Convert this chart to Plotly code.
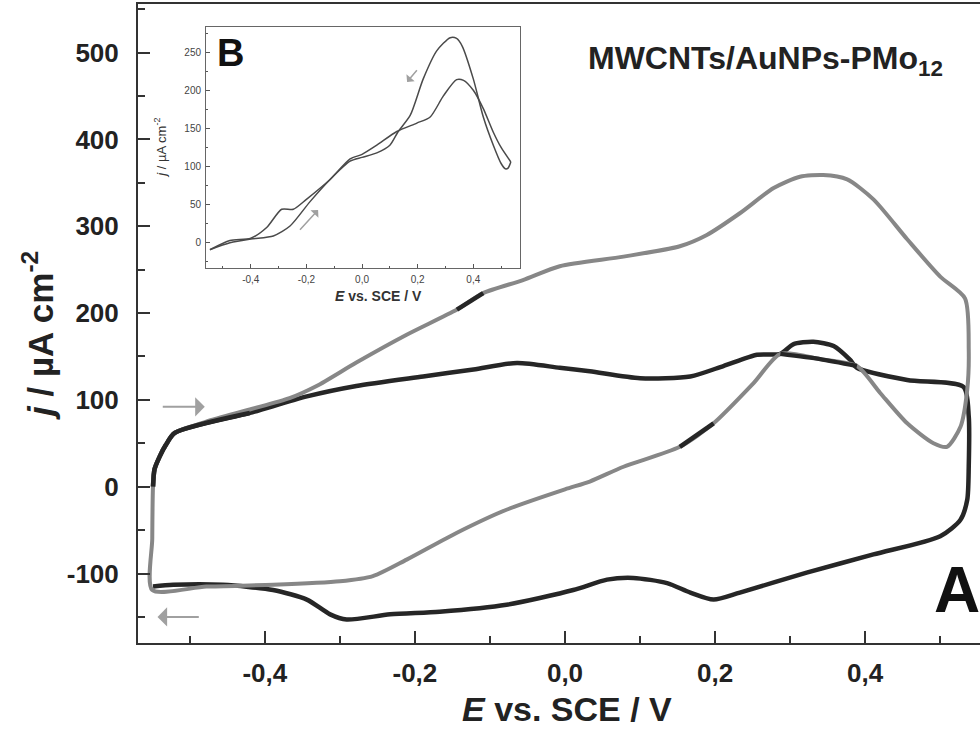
import plotly.graph_objects as go

# ---------------- data ----------------
# main panel A: outer cycle (grey)
gray_v = [-0.550, -0.550, -0.549, -0.547, -0.540, -0.532, -0.520, -0.478, -0.42, -0.367, -0.331,
          -0.278, -0.211, -0.144, -0.109, -0.056, -0.007, 0.078, 0.153, 0.189, 0.233, 0.278,
          0.313, 0.344, 0.376, 0.411, 0.456, 0.50, 0.533, 0.538, 0.536, 0.527, 0.509, 0.491,
          0.456, 0.42, 0.389, 0.34, 0.287, 0.251, 0.198, 0.153, 0.078, 0.033, 0.0, -0.078,
          -0.144, -0.211, -0.256, -0.30, -0.389, -0.478, -0.550]
gray_j = [-119, -60, 0, 20, 35, 48, 62, 75, 89, 102, 116,
          143, 175, 204, 223, 238, 254, 265, 277, 290, 315, 344,
          357, 359, 354, 331, 285, 242, 217, 158, 112, 69, 46, 50,
          73, 108, 139, 147, 153, 119, 73, 46, 23, 6, -3, -26.5,
          -53, -84, -103, -109, -113, -115, -119]

# main panel A: inner cycle (black)
black_v = [-0.549, -0.547, -0.540, -0.532, -0.520, -0.42, -0.344, -0.278, -0.189, -0.122, -0.064,
           -0.007, 0.033, 0.10, 0.167, 0.211, 0.256, 0.287, 0.304, 0.331, 0.358, 0.38, 0.389,
           0.456, 0.531, 0.538, 0.538, 0.536, 0.527, 0.50, 0.411, 0.322, 0.233, 0.198, 0.167,
           0.136, 0.091, 0.056, 0.011, -0.078, -0.167, -0.233, -0.291, -0.313, -0.344, -0.389,
           -0.456, -0.522, -0.549]
black_j = [0, 20, 35, 48, 62, 85, 104, 116, 127, 135, 142.5,
           137, 133, 125, 127, 139, 152, 153, 164, 167, 162, 146, 137,
           123, 115, 81, 23, -15, -38, -57, -78, -99, -122, -130, -122,
           -111, -105, -107, -119, -136, -144, -147, -153, -147, -130, -119,
           -113, -113, -115]

# darker overprinted pieces of the grey cycle
dark_v = [0.389, 0.34, 0.287, None, -0.144, -0.109, None, 0.153, 0.198]
dark_j = [139, 147, 153, None, 204, 223, None, 46, 73]

# inset B: difference curves
insA_v = [-0.547, -0.475, -0.40, -0.319, -0.259, -0.187, -0.115, -0.043, 0.0, 0.053, 0.10, 0.13,
          0.173, 0.22, 0.269, 0.317, 0.34, 0.36, 0.40, 0.436, 0.472, 0.50, 0.515, 0.525, 0.535]
insA_j = [-9, 0, 5, 9, 22, 54, 83, 107, 112, 118, 128, 146,
          167, 215, 252, 269, 268, 258, 215, 165, 128, 104, 97, 98, 106]
insB_v = [-0.547, -0.475, -0.40, -0.343, -0.289, -0.247, -0.20, -0.115, -0.043, 0.0, 0.053,
          0.125, 0.197, 0.245, 0.293, 0.34, 0.365, 0.40, 0.436, 0.472, 0.50, 0.535]
insB_j = [-9, 3, 6, 20, 44, 44, 57, 83, 110, 116, 128,
          146, 157, 165, 193, 214, 213, 200, 176, 145, 125, 106]

x_ticks = [-0.4, -0.2, 0.0, 0.2, 0.4]
x_ticktext = ["-0,4", "-0,2", "0,0", "0,2", "0,4"]
y_ticks = [-100, 0, 100, 200, 300, 400, 500]
y_ticktext = ["-100", "0", "100", "200", "300", "400", "500"]
ins_y_ticks = [0, 50, 100, 150, 200, 250]

GRAY = "#878787"
BLACK = "#262626"
FONT = "Liberation Sans, Arial, sans-serif"
SM = 0.7

fig = go.Figure()
fig.add_trace(go.Scatter(x=black_v, y=black_j, mode="lines",
                         line=dict(color=BLACK, width=4.5, shape="spline", smoothing=SM), hoverinfo="skip"))
fig.add_trace(go.Scatter(x=gray_v, y=gray_j, mode="lines",
                         line=dict(color=GRAY, width=4, shape="spline", smoothing=SM), hoverinfo="skip"))
fig.add_trace(go.Scatter(x=black_v[:6], y=black_j[:6], mode="lines",
                         line=dict(color=BLACK, width=4.5, shape="spline", smoothing=SM), hoverinfo="skip"))
fig.add_trace(go.Scatter(x=dark_v, y=dark_j, mode="lines", connectgaps=False,
                         line=dict(color=BLACK, width=4.5, shape="spline", smoothing=SM), hoverinfo="skip"))
fig.add_trace(go.Scatter(x=insA_v, y=insA_j, mode="lines", xaxis="x2", yaxis="y2",
                         line=dict(color="#4a4a4a", width=1.5, shape="spline", smoothing=SM), hoverinfo="skip"))
fig.add_trace(go.Scatter(x=insB_v, y=insB_j, mode="lines", xaxis="x2", yaxis="y2",
                         line=dict(color="#4a4a4a", width=1.5, shape="spline", smoothing=SM), hoverinfo="skip"))

axis_common = dict(showgrid=False, zeroline=False, showline=True, ticks="inside")

fig.update_layout(
    width=980, height=729,
    margin=dict(l=138, r=0, t=4, b=86),
    paper_bgcolor="white", plot_bgcolor="white",
    showlegend=False,
    font=dict(family=FONT, color="#222"),
    xaxis=dict(**axis_common, range=[-0.569, 0.553], tickvals=x_ticks, ticktext=x_ticktext,
               ticklen=12, tickwidth=2, tickcolor="#333", linecolor="#333", linewidth=2,
               mirror=True, minor=dict(dtick=0.1, tick0=0, ticklen=7, tickwidth=2, tickcolor="#333", ticks="inside"),
               tickfont=dict(size=26, weight="bold", family=FONT, color="#222"),
               ticklabelstandoff=6),
    yaxis=dict(**axis_common, range=[-180, 556], tickvals=y_ticks, ticktext=y_ticktext,
               ticklen=12, tickwidth=2, tickcolor="#333", linecolor="#333", linewidth=2,
               mirror=False, minor=dict(dtick=50, tick0=0, ticklen=7, tickwidth=2, tickcolor="#333", ticks="inside"),
               tickfont=dict(size=26, weight="bold", family=FONT, color="#222"),
               ticklabelstandoff=12),
    xaxis2=dict(**axis_common, domain=[0.0808, 0.4537], anchor="y2", range=[-0.561, 0.568],
                tickvals=x_ticks, ticktext=x_ticktext, ticklen=4, tickwidth=1, tickcolor="#555",
                linecolor="#666", linewidth=1, mirror=True,
                minor=dict(dtick=0.1, tick0=0, ticklen=2, tickcolor="#555", ticks="inside"),
                tickfont=dict(size=10, family=FONT, color="#444"), ticklabelstandoff=2),
    yaxis2=dict(**axis_common, domain=[0.5869, 0.964], anchor="x2", range=[-33, 283],
                tickvals=ins_y_ticks, ticklen=4, tickwidth=1, tickcolor="#555",
                linecolor="#666", linewidth=1, mirror=True,
                minor=dict(dtick=25, tick0=0, ticklen=2, tickcolor="#555", ticks="inside"),
                tickfont=dict(size=10, family=FONT, color="#444"), ticklabelstandoff=2),
)

ann = [
    dict(text="<i>E</i> vs. SCE / V", x=0.5095, y=-0.1345, xref="paper", yref="paper",
         showarrow=False, font=dict(size=34, weight="bold", family=FONT, color="#222"),
         xanchor="center", yanchor="bottom", borderpad=0),
    dict(text="<i>j</i> / µA cm<sup>-2</sup>", x=-0.1188, y=0.482, xref="paper", yref="paper",
         showarrow=False, textangle=-90, font=dict(size=35, weight="bold", family=FONT, color="#222"),
         xanchor="center", yanchor="middle"),
    dict(text="MWCNTs/AuNPs-PMo<sub>12</sub>", x=0.532, y=0.912, xref="paper", yref="paper",
         showarrow=False, font=dict(size=32, weight="bold", family=FONT, color="#222"),
         xanchor="left", yanchor="middle"),
    dict(text="A", x=0.973, y=0.083, xref="paper", yref="paper", showarrow=False,
         font=dict(size=64, weight="bold", family=FONT, color="#111"), xanchor="center", yanchor="middle"),
    dict(text="B", x=0.0914, y=0.923, xref="paper", yref="paper", showarrow=False,
         font=dict(size=38, weight="bold", family=FONT, color="#111"), xanchor="left", yanchor="middle"),
    dict(text="<i>E</i> vs. SCE / V", x=0.286, y=0.543, xref="paper", yref="paper",
         showarrow=False, font=dict(size=14, weight="bold", family=FONT, color="#333"),
         xanchor="center", yanchor="middle"),
    dict(text="<i>j</i> / µA cm<sup>-2</sup>", x=0.026, y=0.775, xref="paper", yref="paper",
         showarrow=False, textangle=-90, font=dict(size=13, family=FONT, color="#333"),
         xanchor="center", yanchor="middle"),
    # arrows, main panel
    dict(x=-0.48, y=92, ax=-0.54, ay=92, xref="x", yref="y", axref="x", ayref="y", text=" ",
         showarrow=True, arrowhead=1, arrowsize=1.6, arrowwidth=2, arrowcolor="#a0a0a0"),
    dict(x=-0.543, y=-150, ax=-0.484, ay=-150, xref="x", yref="y", axref="x", ayref="y", text=" ",
         showarrow=True, arrowhead=1, arrowsize=1.6, arrowwidth=2, arrowcolor="#a0a0a0"),
    # arrows, inset
    dict(x=0.162, y=211, ax=0.208, ay=231, xref="x2", yref="y2", axref="x2", ayref="y2", text=" ",
         showarrow=True, arrowhead=1, arrowsize=1.2, arrowwidth=1.5, arrowcolor="#a0a0a0"),
    dict(x=-0.158, y=43, ax=-0.234, ay=13, xref="x2", yref="y2", axref="x2", ayref="y2", text=" ",
         showarrow=True, arrowhead=1, arrowsize=1.2, arrowwidth=1.5, arrowcolor="#a0a0a0"),
]
fig.update_layout(annotations=ann)

fig.write_html("out.html")
